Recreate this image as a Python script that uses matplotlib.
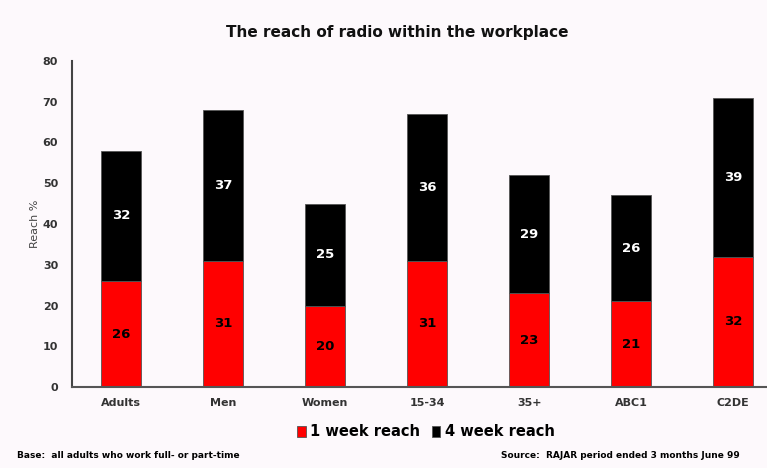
import matplotlib.pyplot as plt
import numpy as np

groups = ["Adults", "Men", "Women", "15-34", "35+", "ABC1", "C2DE"]
week1 = [26, 31, 20, 31, 23, 21, 32]
week4 = [32, 37, 25, 36, 29, 26, 39]

bg = "#fdf9fc"
fig = plt.figure(figsize=(7.67, 4.68), dpi=100, facecolor=bg)
ax = fig.add_axes([72 / 767, 1 - 387 / 468, 1 - 72 / 767, 326 / 468], facecolor=bg)

x = np.arange(len(groups))
w = 0.39
b1 = ax.bar(x, week1, w, color="#ff0000", edgecolor="#555555", linewidth=0.6, label="1 week reach")
b2 = ax.bar(x, week4, w, bottom=week1, color="#000000", edgecolor="#555555", linewidth=0.6, label="4 week reach")

for i in range(len(groups)):
    ax.text(x[i], week1[i] / 2, str(week1[i]), ha="center", va="center",
            fontsize=9.5, fontweight="bold", color="black")
    ax.text(x[i], week1[i] + week4[i] / 2, str(week4[i]), ha="center", va="center",
            fontsize=9.5, fontweight="bold", color="white")

ax.set_xlim(-0.48, 6.33)
ax.set_ylim(0, 80)
ax.set_yticks(range(0, 81, 10))
ax.set_xticks(x)
ax.set_xticklabels(groups)
ax.tick_params(axis="both", length=0, labelsize=8, pad=8)
ax.tick_params(axis="y", pad=10)
for lab in ax.get_xticklabels() + ax.get_yticklabels():
    lab.set_fontweight("bold")
    lab.set_color("#333333")
ax.set_ylabel("Reach %", fontsize=8, color="#444444", labelpad=2)
for s in ["top", "right"]:
    ax.spines[s].set_visible(False)
ax.spines["left"].set_color("#444444")
ax.spines["left"].set_linewidth(1.5)
ax.spines["bottom"].set_color("#555555")
ax.spines["bottom"].set_linewidth(1.5)

fig.text(0.518, 1 - 33 / 468, "The reach of radio within the workplace", ha="center", va="center",
         fontsize=11, fontweight="bold", color="#111111")

fig.legend(handles=[b1, b2], loc="center", bbox_to_anchor=(0.555, 1 - 432 / 468), ncol=2,
           frameon=False, handlelength=0.6, handleheight=0.8, handletextpad=0.3,
           columnspacing=0.8, prop={"weight": "bold", "size": 10.5})

fig.text(0.022, 1 - 455 / 468, "Base:  all adults who work full- or part-time", fontsize=6.5,
         fontweight="bold", family=["Liberation Sans Narrow", "DejaVu Sans"], va="center")
fig.text(0.965, 1 - 455 / 468, "Source:  RAJAR period ended 3 months June 99", fontsize=6.5,
         fontweight="bold", family=["Liberation Sans Narrow", "DejaVu Sans"], va="center", ha="right")

fig.savefig("out.png", dpi=100, facecolor=bg)
